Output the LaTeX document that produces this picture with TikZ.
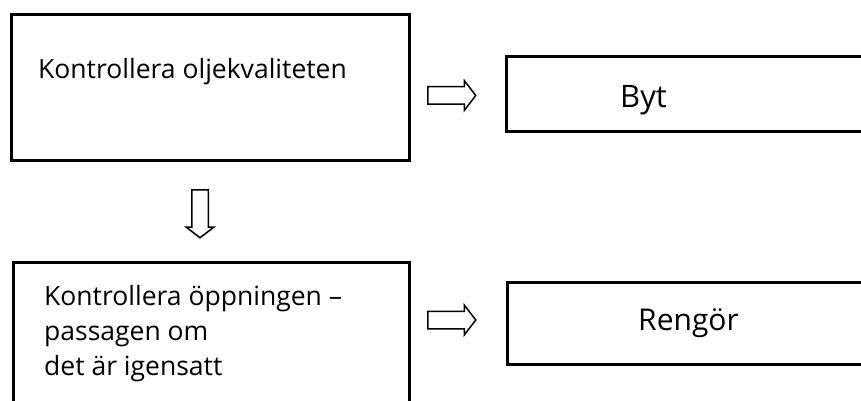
\documentclass[tikz,border=0pt]{standalone}
\usepackage{fontspec}
\setmainfont{Open Sans}
\usetikzlibrary{positioning,shapes.arrows}

\begin{document}
\begin{tikzpicture}[
  x=1pt, y=1pt,
  box/.style={draw, line width=3pt, outer sep=0pt, inner sep=0pt, minimum width=#1},
  box/.default=398pt,
  txt/.style={inner sep=0pt, anchor=base west, align=left, font=\fontsize{26.5}{35}\selectfont},
  harrow/.style={single arrow, draw, line width=1.5pt, fill=white, inner sep=8pt,
    minimum height=48pt, single arrow head extend=6pt, single arrow tip angle=105, anchor=tail},
  node distance=18pt
]
  \path[use as bounding box, clip] (0,0) rectangle (861,-401);

  % boxes
  \node[box, minimum height=146pt] (b1) at (210,-87.5) {};
  \node[box=380pt, minimum height=74pt, right=97pt of b1, yshift=-6.5pt] (b2) {};
  \node[box=396pt, minimum height=160pt, below=101.5pt of b1, xshift=1pt] (b3) {};
  \node[box=380pt, minimum height=82pt, right=98pt of b3, yshift=19pt] (b4) {};

  % texts
  \node[txt] (t1) at ([shift={(27,-64.5)}]b1.north west) {Kontrollera oljekvaliteten};
  \node[txt, font=\fontsize{31}{35}\selectfont] (t2) at ([shift={(114,-14)}]b2.west) {Byt};
  % base = last line
  \node[txt] (t3) at ([shift={(31,-113)}]b3.north west) {Kontrollera öppningen –\\passagen om\\det är igensatt};
  \node[txt, font=\fontsize{30}{35}\selectfont] (t4) at ([shift={(131,-7)}]b4.west) {Rengör};

  % arrows
  \node[harrow] (a1) at ([shift={(18,-8)}]b1.east) {};
  \node[harrow] (a2) at ([shift={(18,22)}]b3.east) {};
  \node[harrow, inner sep=7.5pt, single arrow head extend=5.5pt, shape border rotate=270] (a3) at ([shift={(-10,-28.5)}]b1.south) {};
\end{tikzpicture}
\end{document}
